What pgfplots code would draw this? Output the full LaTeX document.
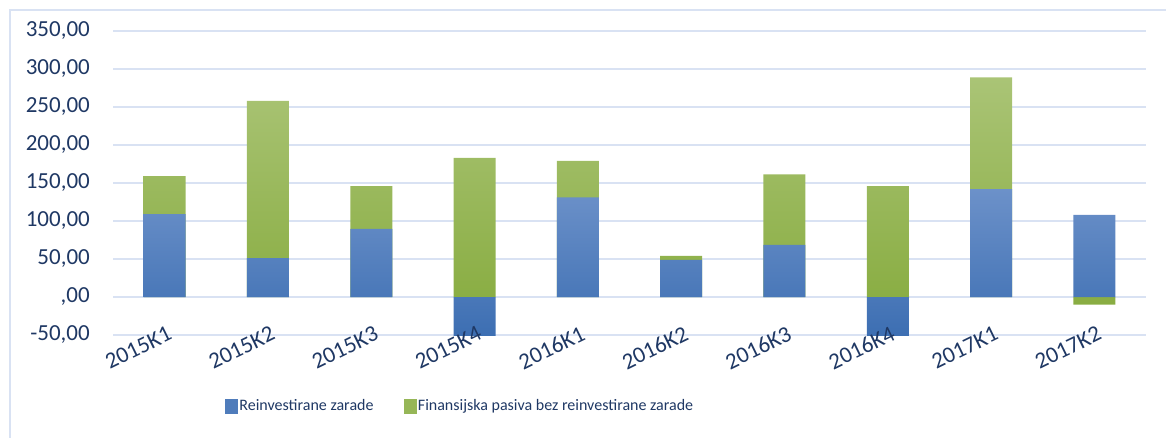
\documentclass[border=0pt]{standalone}
\usepackage{pgfplots}
\pgfplotsset{compat=1.18}
\usepackage{pgfplotstable}
\usepackage{fontspec}
\setmainfont{Carlito}
\definecolor{gridc}{RGB}{217,226,243}
\definecolor{txt}{RGB}{31,56,100}
\definecolor{btop}{RGB}{108,145,201}
\definecolor{bbot}{RGB}{60,110,178}
\definecolor{gtop}{RGB}{170,196,118}
\definecolor{gbot}{RGB}{137,173,66}
\pgfplotsset{common/.style={at={(113pt,102pt)}, anchor=south west, scale only axis,
  width=1033pt, height=304pt,
  xmin=-0.5, xmax=9.5, ymin=-50, ymax=350,
  ytick={-50,0,...,350}, xtick={0,...,9},
  axis line style={draw=none}, major tick length=0pt}}
\pgfplotstableread{
x b g
0 109 50
1 51 207
2 89.5 56.5
3 -53.5 183
4 131 48
5 49 5
6 68.5 93
7 -53.5 146
8 142 147
9 108 -10
}\data
\begin{document}
\begin{tikzpicture}[x=1pt,y=1pt]
\useasboundingbox (0,0) rectangle (1166,437);
\draw[gridc, line width=2pt] (10,-5) -- (10,427) -- (1175,427);
\begin{axis}[common,
  xticklabels={}, yticklabels={},
  ymajorgrids, grid style={gridc, line width=2.6pt},
  legend style={at={(axis description cs:0.336,-0.2336)}, anchor=center, draw=none, fill=none,
    font=\fontsize{16}{18}\selectfont, text=txt, legend columns=2,
    /tikz/every even column/.append style={column sep=28pt}},
  legend cell align=left,
]
\addplot[ybar, bar width=42pt, bar shift=0pt, draw=none, top color=gtop, bottom color=gbot, forget plot]
  table[x=x, y expr={(\thisrow{b}>0 && \thisrow{g}>0) ? \thisrow{b}+\thisrow{g} : \thisrow{g}}]{\data};
\addplot[ybar, bar width=42pt, bar shift=0pt, draw=none, top color=btop, bottom color=bbot, forget plot]
  table[x=x, y=b]{\data};
\addlegendimage{legend image code/.code={\fill[btop!40!bbot] (0pt,-7pt) rectangle (12pt,7pt);}}
\addlegendentry{Reinvestirane zarade}
\addlegendimage{legend image code/.code={\fill[gtop!40!gbot] (0pt,-7pt) rectangle (12pt,7pt);}}
\addlegendentry{Finansijska pasiva bez reinvestirane zarade}
\end{axis}
\begin{axis}[common,
  yticklabels={{-50,00},{,00},{50,00},{100,00},{150,00},{200,00},{250,00},{300,00},{350,00}},
  xticklabels={2015K1,2015K2,2015K3,2015K4,2016K1,2016K2,2016K3,2016K4,2017K1,2017K2},
  tick label style={font=\fontsize{23}{26}\selectfont, text=txt, inner sep=0pt},
  yticklabel style={anchor=east, xshift=-23pt},
  xticklabel style={anchor=north east, yshift=10pt, xshift=2pt, rotate=26},
  /pgf/number format/assume math mode=true,
]
\end{axis}
\end{tikzpicture}
\end{document}
